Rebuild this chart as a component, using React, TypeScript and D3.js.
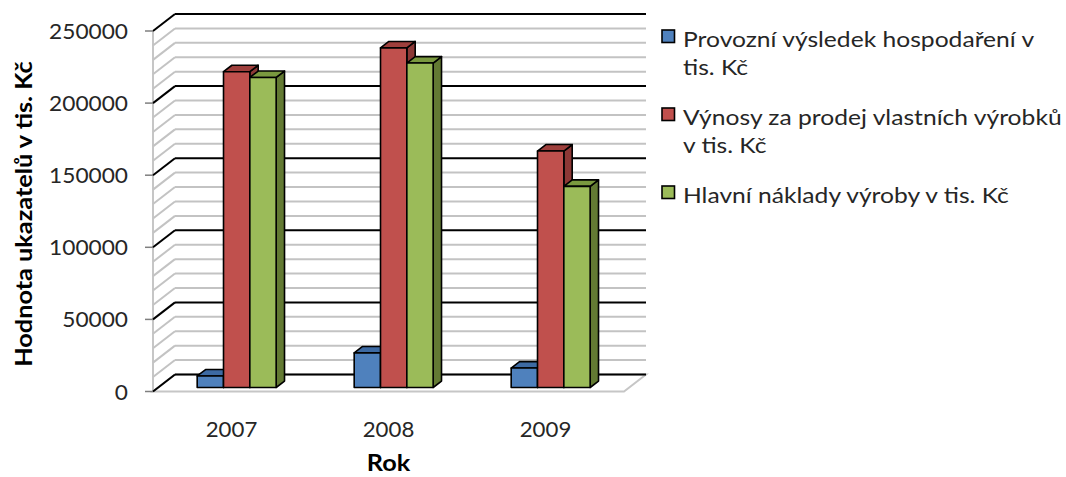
import React from "react";
import * as d3 from "d3";

// Years on the category axis
const years = ["2007", "2008", "2009"];

// Series values (tis. Kč)
const provozniVysledek = [8000, 24000, 13500];
const vynosyVyrobky = [219000, 235500, 164000];
const hlavniNaklady = [215000, 225000, 139500];

const seriesNames = [
  ["Provozní výsledek hospodaření v", "tis. Kč"],
  ["Výnosy za prodej vlastních výrobků", "v tis. Kč"],
  ["Hlavní náklady výroby v tis. Kč"],
];

const majorTicks = [0, 50000, 100000, 150000, 200000, 250000];
const minorStep = 10000;

const yTitle = "Hodnota ukazatelů v tis. Kč";
const xTitle = "Rok";

// Office palette: front, side, top
const palette = [
  { front: "#4f81bd", side: "#2f5588", top: "#3d6aa3" },
  { front: "#c0504d", side: "#8c3836", top: "#9e3f3c" },
  { front: "#9bbb59", side: "#637a33", top: "#7a993f" },
];

const W = 1066;
const H = 477;
const FONT = "Lato, 'Open Sans', sans-serif";
const TEXT = "#262626";

// Back wall and depth of the 3-D box
const backLeft = 175;
const backRight = 646;
const depthDX = 22;
const depthDY = 17;
// Bars sit between these depth fractions (0 = back wall, 1 = front edge)
const barFront = 0.765;
const barBack = 0.385;

const y = d3.scaleLinear().domain([0, 250000]).range([374.5, 14]);
const x0 = d3.scaleBand<string>().domain(years).range([backLeft, backRight]);
const groupW = x0.bandwidth() * 0.503;
const x1 = d3
  .scaleBand<number>()
  .domain(d3.range(3))
  .range([0, groupW]);

const proj = (x: number, yy: number, f: number): [number, number] => [
  x - depthDX * f,
  yy + depthDY * f,
];

const pts = (p: [number, number][]) => p.map((q) => q.join(",")).join(" ");

function Bar({ xb, w, v, c }: { xb: number; w: number; v: number; c: number }) {
  const yt = y(v);
  const yb = y(0);
  const fl = proj(xb, yt, barFront);
  const fr = proj(xb + w, yt, barFront);
  const frb = proj(xb + w, yb, barFront);
  const flb = proj(xb, yb, barFront);
  const bl = proj(xb, yt, barBack);
  const br = proj(xb + w, yt, barBack);
  const brb = proj(xb + w, yb, barBack);
  const col = palette[c];
  const sw = 1.6;
  return (
    <g stroke="#000" strokeWidth={sw} strokeLinejoin="round">
      <polygon points={pts([fr, br, brb, frb])} fill={col.side} />
      <polygon points={pts([fl, bl, br, fr])} fill={col.top} />
      <polygon points={pts([fl, fr, frb, flb])} fill={col.front} />
    </g>
  );
}

export default function App() {
  const series = [provozniVysledek, vynosyVyrobky, hlavniNaklady];
  const minorTicks = d3.range(0, 250001, minorStep).filter((t) => t % 50000 !== 0);
  const fy0 = proj(backLeft, y(0), 1);
  const fyTop = proj(backLeft, y(250000), 1);
  const floorBackRight: [number, number] = [backRight, y(0)];
  const floorFrontRight = proj(backRight, y(0), 1);
  const floorMid = proj((backLeft + backRight) / 2, y(0), 1);

  return (
    <svg
      width={W}
      height={H}
      style={{ position: "absolute", left: 0, top: 0, background: "#fff" }}
      fontFamily={FONT}
    >
      <rect width={W} height={H} fill="#fff" />

      {/* floor */}
      <polygon
        points={pts([[backLeft, y(0)], floorBackRight, floorFrontRight, fy0])}
        fill="#fff"
        stroke="#c6c6c6"
        strokeWidth={2}
      />
      {/* side wall front edge */}
      <line x1={fy0[0]} x2={fyTop[0]} y1={fy0[1]} y2={fyTop[1]} stroke="#c6c6c6" strokeWidth={2} />

      {/* minor gridlines on side and back walls */}
      {minorTicks.map((t) => {
        const f = proj(backLeft, y(t), 1);
        return (
          <g key={"m" + t} stroke="#c3c3c3" strokeWidth={2}>
            <line x1={f[0]} y1={f[1]} x2={backLeft} y2={y(t)} />
            <line x1={backLeft} y1={y(t)} x2={backRight} y2={y(t)} />
          </g>
        );
      })}
      {/* major gridlines */}
      {majorTicks.map((t) => {
        const f = proj(backLeft, y(t), 1);
        return (
          <g key={"M" + t}>
            <line x1={f[0]} y1={f[1]} x2={backLeft} y2={y(t)} stroke="#000" strokeWidth={2} />
            <line x1={backLeft} y1={y(t)} x2={backRight} y2={y(t)} stroke="#000" strokeWidth={2} />
            <line x1={f[0] - 8} y1={f[1]} x2={f[0]} y2={f[1]} stroke="#7f7f7f" strokeWidth={1.5} />
            <text
              transform={`translate(${f[0] - 25},${f[1] + 8}) scale(1.08,1)`}
              textAnchor="end"
              fontSize={21}
              fill={TEXT}
            >
              {t}
            </text>
          </g>
        );
      })}

      {/* bars */}
      {years.map((yr, i) => (
        <g key={yr}>
          {series.map((s, c) => (
            <Bar
              key={c}
              xb={(x0(yr) as number) + (x0.bandwidth() - groupW) / 2 + (x1(c) as number)}
              w={x1.bandwidth()}
              v={s[i]}
              c={c}
            />
          ))}
        </g>
      ))}

      {/* category labels */}
      {years.map((yr) => {
        const p = proj((x0(yr) as number) + x0.bandwidth() / 2, y(0), 1);
        return (
          <text
            key={"l" + yr}
            transform={`translate(${p[0]},${p[1] + 45.5}) scale(1.06,1)`}
            textAnchor="middle"
            fontSize={21}
            fill={TEXT}
          >
            {yr}
          </text>
        );
      })}

      {/* axis titles */}
      <text
        transform={`translate(${floorMid[0]},471) scale(1.1,1)`}
        textAnchor="middle"
        fontSize={23}
        fontWeight="bold"
        fill="#000"
      >
        {xTitle}
      </text>
      <text
        transform="translate(32,214) rotate(-90) scale(1.1,1)"
        textAnchor="middle"
        fontSize={23}
        fontWeight="bold"
        fill="#000"
      >
        {yTitle}
      </text>

      {/* legend */}
      {seriesNames.map((lines, c) => {
        const top = 30 + c * 78;
        return (
          <g key={"lg" + c}>
            <rect x={662} y={top} width={12.5} height={12.5} fill={palette[c].front} stroke="#000" strokeWidth={1.6} />
            {lines.map((ln, k) => (
              <text
                key={k}
                transform={`translate(683,${top + 16.5 + k * 28.5}) scale(1.12,1)`}
                fontSize={22}
                fill={TEXT}
              >
                {ln}
              </text>
            ))}
          </g>
        );
      })}
    </svg>
  );
}
